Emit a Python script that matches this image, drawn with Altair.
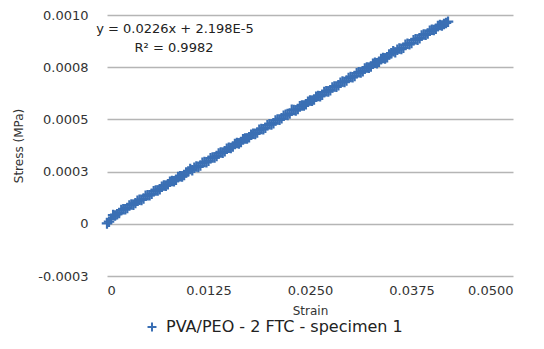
import altair as alt
import pandas as pd

# Strain sampling grid (two interleaved passes, 0.0005 apart each)
strain_a = [round(i * 0.0005, 5) for i in range(85)]
strain_b = [round(0.00025 + k * 0.0005, 5) for k in range(84)]
# Stress values, in units of 1e-6 MPa
stress_a = [
    2, 24, 40, 52, 70, 76, 93, 99, 115, 121,
    137, 144, 160, 166, 183, 189, 205, 211, 228, 234,
    251, 257, 274, 279, 296, 302, 318, 325, 341, 347,
    364, 370, 387, 392, 409, 415, 431, 437, 454, 460,
    477, 482, 499, 505, 522, 528, 545, 550, 567, 573,
    590, 595, 612, 618, 635, 640, 658, 663, 681, 686,
    703, 708, 726, 731, 749, 753, 771, 776, 794, 798,
    817, 821, 839, 843, 862, 866, 884, 889, 907, 911,
    929, 934, 952, 957, 968,
]
stress_b = [
    10, 42, 46, 66, 70, 88, 91, 110, 114, 134,
    137, 156, 159, 178, 182, 201, 204, 224, 227, 246,
    262, 269, 272, 292, 295, 314, 317, 337, 340, 359,
    363, 382, 385, 405, 408, 427, 430, 450, 453, 472,
    476, 495, 498, 518, 521, 546, 543, 563, 566, 585,
    589, 608, 611, 631, 634, 653, 656, 676, 679, 698,
    702, 721, 724, 744, 747, 766, 769, 789, 792, 811,
    826, 834, 837, 857, 860, 879, 882, 902, 905, 924,
    928, 947, 950, 962,
]
series_name = "PVA/PEO - 2 FTC - specimen 1"

y_tick_values = [-0.00025, 0, 0.00025, 0.0005, 0.00075, 0.001]
y_tick_labels = ["-0.0003", "0", "0.0003", "0.0005", "0.0008", "0.0010"]
x_tick_values = [0, 0.0125, 0.025, 0.0375, 0.05]
x_tick_labels = ["0", "0.0125", "0.0250", "0.0375", "0.0500"]

equation_text = "y = 0.0226x + 2.198E-5"
r2_text = "R\u00b2 = 0.9982"

strain = strain_a + strain_b
stress = [v * 1e-6 for v in stress_a + stress_b]
df = pd.DataFrame({
    "Strain": strain,
    "Stress": stress,
    "series": [series_name] * len(strain),
})


def label_expr(values, labels):
    parts = []
    for v, l in zip(values, labels):
        parts.append(f"abs(datum.value - ({v})) < 1e-9 ? '{l}'")
    return " : ".join(parts) + " : ''"


PLUS = "M-1,0L1,0M0,-1L0,1"
BLUE = "#3a6fb4"
FONT = "DejaVu Sans"

points = alt.Chart(df).mark_point(
    shape=PLUS, filled=False, strokeWidth=2.2, size=110, opacity=1
).encode(
    x=alt.X("Strain:Q",
            scale=alt.Scale(domain=[0, 0.05], nice=False, zero=False),
            axis=alt.Axis(values=x_tick_values,
                          labelExpr=label_expr(x_tick_values, x_tick_labels),
                          grid=False, domain=False, ticks=False,
                          labelPadding=8, titlePadding=8, title="Strain")),
    y=alt.Y("Stress:Q",
            scale=alt.Scale(domain=[-0.00025, 0.001], nice=False, zero=False),
            axis=alt.Axis(values=y_tick_values,
                          labelExpr=label_expr(y_tick_values, y_tick_labels),
                          grid=True, domain=False, ticks=False,
                          labelPadding=19, titlePadding=12,
                          title="Stress (MPa)")),
    color=alt.Color("series:N",
                    scale=alt.Scale(range=[BLUE]),
                    legend=alt.Legend(title=None, orient="none",
                                      legendX=37, legendY=304,
                                      symbolType=PLUS, symbolStrokeWidth=2,
                                      symbolSize=80, labelFontSize=16,
                                      labelFont=FONT, labelColor="#222222",
                                      labelOffset=6, padding=0, labelLimit=0)),
)

eq = alt.Chart(pd.DataFrame({"t": [equation_text]})).mark_text(
    font=FONT, fontSize=13, color="#222222", align="center", baseline="middle"
).encode(text="t:N", x=alt.value(68), y=alt.value(14))

r2 = alt.Chart(pd.DataFrame({"t": [r2_text]})).mark_text(
    font=FONT, fontSize=13, color="#222222", align="center", baseline="middle"
).encode(text="t:N", x=alt.value(67), y=alt.value(33))

chart = alt.layer(points, eq, r2).properties(
    width=406, height=261,
    autosize=alt.AutoSizeParams(type="none"),
    padding={"left": 99, "top": 7, "right": 22, "bottom": 60},
    background="white",
).configure_view(stroke=None).configure_axis(
    labelFont=FONT, labelFontSize=13, labelColor="#333333",
    titleFont=FONT, titleFontSize=12, titleFontWeight="normal", titleColor="#333333",
    gridColor="#b5b5b5", gridWidth=1.5,
)

chart.save("out.html", embed_options={"renderer": "svg", "actions": False})
